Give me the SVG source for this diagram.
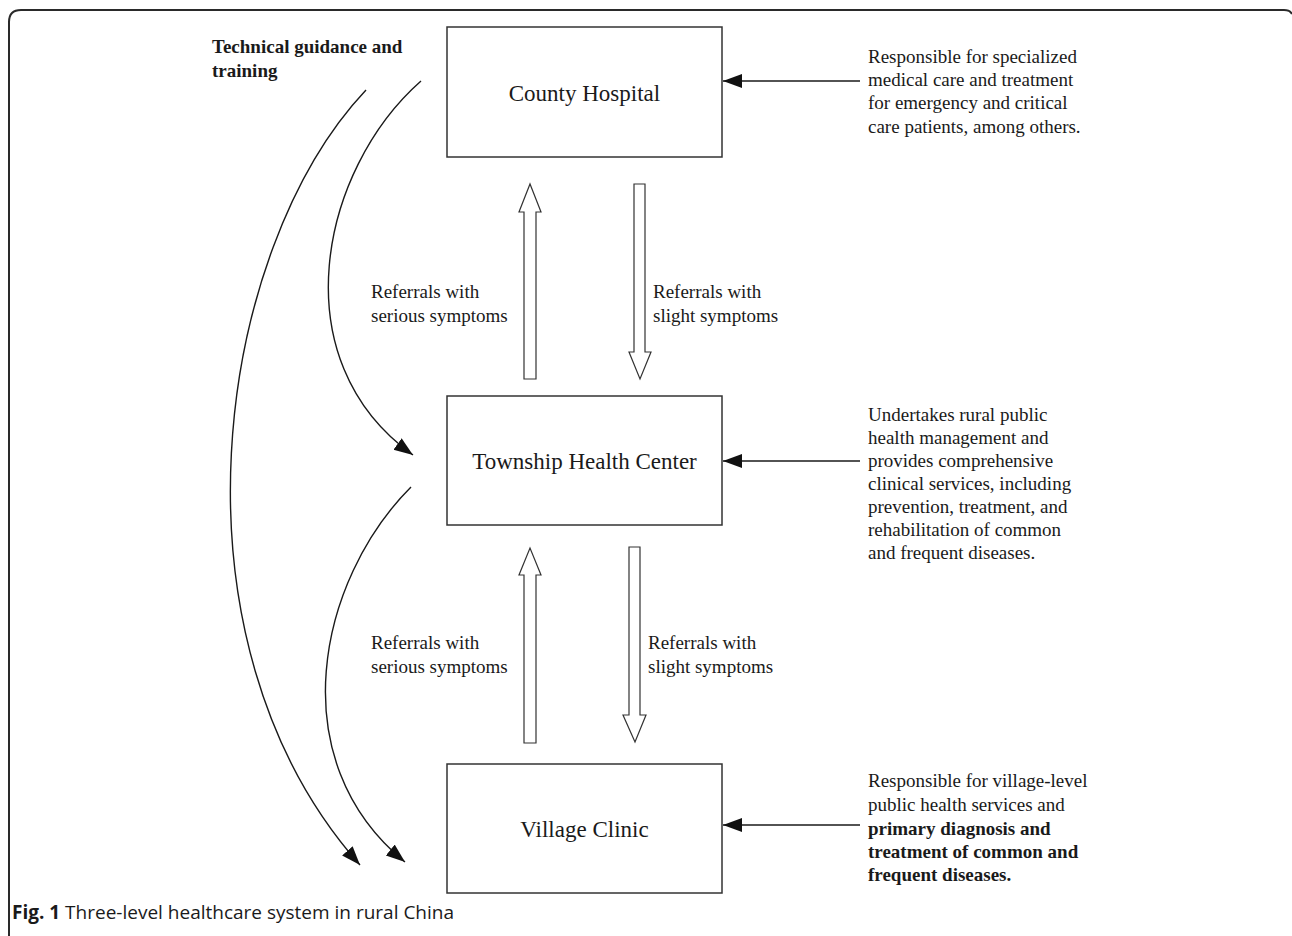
<svg xmlns="http://www.w3.org/2000/svg" width="1292" height="936" viewBox="0 0 1292 936">
<style>
.frame{fill:none;stroke:#2a2a2a;stroke-width:2}
.box{fill:#fff;stroke:#333;stroke-width:1.5}
.lbl{font-family:"Liberation Serif","Times New Roman",serif;font-size:23px;fill:#1a1a1a;text-anchor:middle}
.t{font-family:"Liberation Serif","Times New Roman",serif;font-size:19px;fill:#1a1a1a}
.b{font-weight:bold}
.conn{fill:none;stroke:#1a1a1a;stroke-width:1.4}
.block{fill:#fff;stroke:#333;stroke-width:1.2}
.cap{font-family:"Open Sans","Noto Sans",sans-serif;font-size:19px;fill:#1a1a1a}
</style>
<defs>
<marker id="ah" markerUnits="userSpaceOnUse" markerWidth="22" markerHeight="16" refX="19" refY="7" orient="auto">
<path d="M0,0 L19,7 L0,14 Z" fill="#111"/>
</marker>
</defs>
<rect width="1292" height="936" fill="#fff"/>
<path class="frame" d="M9,936 V22 Q9,10 21,10 H1284 Q1290,10 1292,14"/>

<g id="connectors">
<path class="conn" d="M366,90 C215,250 160,640 360,865" marker-end="url(#ah)"/>
<path class="conn" d="M421,81 C320,170 280,360 413,455" marker-end="url(#ah)"/>
<path class="conn" d="M411,487 C318,580 280,760 405,862" marker-end="url(#ah)"/>
<line class="conn" x1="860" y1="81" x2="723" y2="81" marker-end="url(#ah)"/>
<line class="conn" x1="860" y1="461" x2="723" y2="461" marker-end="url(#ah)"/>
<line class="conn" x1="860" y1="825" x2="723" y2="825" marker-end="url(#ah)"/>
<path class="block" d="M524,379 V212 H519 L530,184 L541,212 H536 V379 Z"/>
<path class="block" d="M634,184 H645 V352 H651 L640,379 L629,352 H634 Z"/>
<path class="block" d="M524,743 V575 H519 L530,548 L541,575 H536 V743 Z"/>
<path class="block" d="M629,547 H640 V715 H646 L635,742 L623,715 H629 Z"/>
<text class="t"><tspan x="371" y="298">Referrals with</tspan><tspan x="371" y="322">serious symptoms</tspan></text>
<text class="t"><tspan x="653" y="298">Referrals with</tspan><tspan x="653" y="322">slight symptoms</tspan></text>
<text class="t"><tspan x="371" y="649">Referrals with</tspan><tspan x="371" y="673">serious symptoms</tspan></text>
<text class="t"><tspan x="648" y="649">Referrals with</tspan><tspan x="648" y="673">slight symptoms</tspan></text>
<text class="t b"><tspan x="212" y="53">Technical guidance and</tspan><tspan x="212" y="77">training</tspan></text>
</g>

<g id="county">
<rect class="box" x="447" y="27" width="275" height="130"/>
<text class="lbl" x="584.5" y="101">County Hospital</text>
</g>
<g id="township">
<rect class="box" x="447" y="396" width="275" height="129"/>
<text class="lbl" x="584.5" y="469">Township Health Center</text>
</g>
<g id="village">
<rect class="box" x="447" y="764" width="275" height="129"/>
<text class="lbl" x="584.5" y="837">Village Clinic</text>
</g>

<g id="county-desc">
<text class="t"><tspan x="868" y="63">Responsible for specialized</tspan><tspan x="868" y="86">medical care and treatment</tspan><tspan x="868" y="109">for emergency and critical</tspan><tspan x="868" y="133">care patients, among others.</tspan></text>
</g>
<g id="township-desc">
<text class="t"><tspan x="868" y="421">Undertakes rural public</tspan><tspan x="868" y="444">health management and</tspan><tspan x="868" y="467">provides comprehensive</tspan><tspan x="868" y="490">clinical services, including</tspan><tspan x="868" y="513">prevention, treatment, and</tspan><tspan x="868" y="536">rehabilitation of common</tspan><tspan x="868" y="559">and frequent diseases.</tspan></text>
</g>
<g id="village-desc">
<text class="t"><tspan x="868" y="787">Responsible for village-level</tspan><tspan x="868" y="811">public health services and</tspan><tspan x="868" y="835" class="b">primary diagnosis and</tspan><tspan x="868" y="858" class="b">treatment of common and</tspan><tspan x="868" y="881" class="b">frequent diseases.</tspan></text>
</g>

<text class="cap" x="12" y="919"><tspan font-weight="bold">Fig. 1</tspan> Three-level healthcare system in rural China</text>
</svg>
